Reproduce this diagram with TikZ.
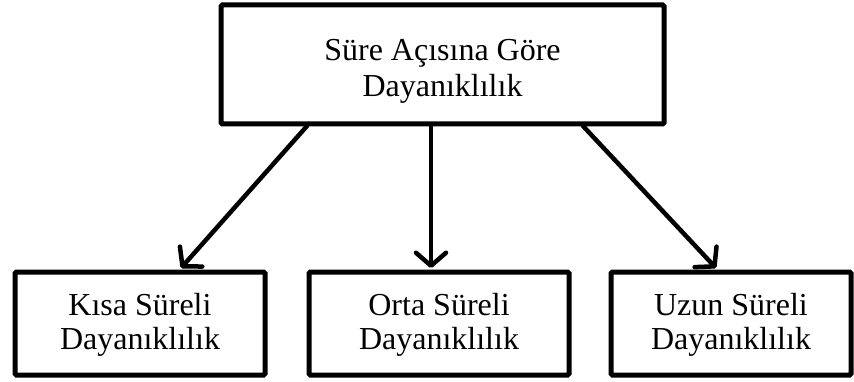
\documentclass[tikz,border=0pt]{standalone}
\usepackage{fontspec}
\setmainfont{Liberation Serif}
\usetikzlibrary{arrows.meta}
\begin{document}
\begin{tikzpicture}[x=1pt,y=-1pt,
  boxnode/.style={draw=black, line width=5pt, rounded corners=1.5pt, inner sep=0pt},
  txt/.style={align=center, inner sep=0pt},
  toptxt/.style={txt, font=\fontsize{32}{36}\selectfont},
  bottxt/.style={txt, font=\fontsize{32}{34}\selectfont},
  arr/.style={line width=4.5pt, line cap=round, -{Straight Barb[length=13pt,width=30pt,line cap=round,line join=round]}}]
\useasboundingbox (0,0) rectangle (854,382);
\node[boxnode, minimum width=443pt, minimum height=119pt] (top) at (442.5,64.5) {};
\node[toptxt] (toptext) at (442.5,71) {Süre Açısına Göre\\Dayanıklılık};
\node[boxnode, minimum width=250pt, minimum height=103pt] (left) at (140,323.5) {};
\node[bottxt] (lefttext) at (140,325) {Kısa Süreli\\Dayanıklılık};
\node[boxnode, minimum width=260pt, minimum height=103pt] (mid) at (439,323.5) {};
\node[bottxt] (midtext) at (439,325) {Orta Süreli\\Dayanıklılık};
\node[boxnode, minimum width=240pt, minimum height=103pt] (right) at (731,323.5) {};
\node[bottxt] (righttext) at (731,325) {Uzun Süreli\\Dayanıklılık};
\coordinate (s1) at (307,126);
\coordinate (e1) at (181,268);
\coordinate (s2) at (431,126);
\coordinate (e2) at (431,268);
\coordinate (s3) at (583,126);
\coordinate (e3) at (716,268);
\draw[arr] (s1) -- (e1);
\draw[arr] (s2) -- (e2);
\draw[arr] (s3) -- (e3);
\end{tikzpicture}
\end{document}
